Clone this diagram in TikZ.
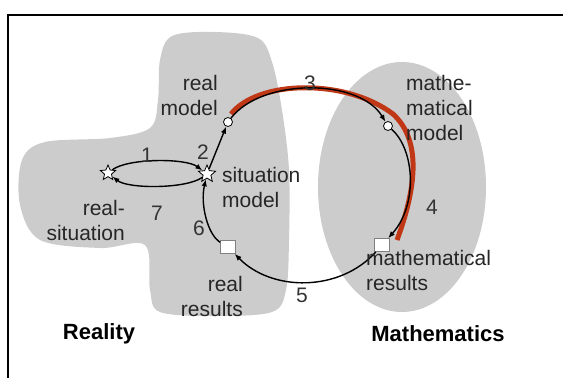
\documentclass[tikz,border=0pt]{standalone}
\usepackage{fontspec}
\setmainfont{Liberation Sans}
\usetikzlibrary{shapes.geometric,arrows.meta}
\definecolor{blobgray}{RGB}{204,204,204}
\definecolor{hired}{RGB}{192,56,22}
\newcommand{\lbfont}{\fontsize{21}{25}\selectfont}
\newcommand{\hdfont}{\fontsize{22}{25}\selectfont}
\tikzset{
  lbl/.style={font=\lbfont, inner sep=0pt, text=black!85},
  numlbl/.style={font=\lbfont, inner sep=0pt, text=black!80},
  headlbl/.style={font=\hdfont\bfseries, inner sep=0pt},
  arr/.style={-{Latex[length=7pt,width=5.5pt]}, line width=1.4pt, black},
  starnode/.style={star, star points=5, star point ratio=2.2, fill=white, draw=black, line width=0.8pt, minimum size=16pt, inner sep=0pt},
  circnode/.style={circle, fill=white, draw=black, line width=0.8pt, minimum size=9pt, inner sep=0pt},
  sqnode/.style={rectangle, fill=white, draw=black!50, line width=0.6pt, minimum width=15pt, minimum height=13pt, inner sep=0pt},
}
\begin{document}
\begin{tikzpicture}[x=1pt,y=-1pt]
\useasboundingbox (0,0) rectangle (563,378);
% frame
\draw[line width=2.5pt] (8,378) -- (8,15) -- (563,15);
% Reality blob
\fill[blobgray] plot[smooth cycle, tension=0.55] coordinates {
 (160,60) (172,36) (215,32) (258,38) (272,62) (282,110) (289,170) (289,240) (286,290) (272,312) (215,316) (160,312) (150,290) (145,245) (100,248) (40,240) (20,205) (22,160) (45,142) (110,138) (150,128) (158,100)};
% Mathematics blob
\fill[blobgray] (402,187) ellipse [x radius=84pt, y radius=125pt];
% nodes
\node[starnode] (rs) at (108,173) {};
\node[starnode, minimum size=18pt] (sm) at (207,174) {};
\node[circnode] (rm) at (228,122) {};
\node[circnode] (mm) at (388,126) {};
\node[sqnode] (mr) at (382,245) {};
\node[sqnode] (rr) at (228,247) {};
% red highlight
\coordinate (r0) at (231,114);
\coordinate (r1) at (397,240);
\draw[hired, line width=5pt] (r0) .. controls (258,80) and (345,78) .. (393,114)
  .. controls (418,137) and (420,178) .. (r1);
% arrows
\draw[arr] (rs) .. controls (128,158) and (186,158) .. (sm);
\draw[arr] (sm) .. controls (186,189) and (128,189) .. (rs);
\draw[arr] (sm) -- (rm);
\draw[arr] (rm) .. controls (262,78) and (359,78) .. (mm);
\draw[arr] (mm) .. controls (415,150) and (418,205) .. (mr);
\draw[arr] (mr) .. controls (340,292) and (272,292) .. (rr);
\draw[arr] (rr) .. controls (208,235) and (200,205) .. (sm);
% labels
\node[lbl, anchor=east, align=right] at (218,95) {real\\model};
\node[lbl, anchor=west, align=left] at (406,108) {mathe-\\matical\\model};
\node[lbl, anchor=west, align=left] at (222,187) {situation\\model};
\node[lbl, anchor=east, align=right] at (125,220) {real-\\situation};
\node[lbl, anchor=east, align=right] at (243,296) {real\\results};
\node[lbl, anchor=west, align=left] at (366,270) {mathematical\\results};
\node[headlbl] at (99,334) {Reality};
\node[headlbl] at (438,334) {Mathematics};
% numbers
\node[numlbl] at (147,155) {1};
\node[numlbl] at (203,152) {2};
\node[numlbl] at (310,83) {3};
\node[numlbl] at (432,207) {4};
\node[numlbl] at (302,295) {5};
\node[numlbl] at (199,228) {6};
\node[numlbl] at (157,213) {7};
\end{tikzpicture}
\end{document}
